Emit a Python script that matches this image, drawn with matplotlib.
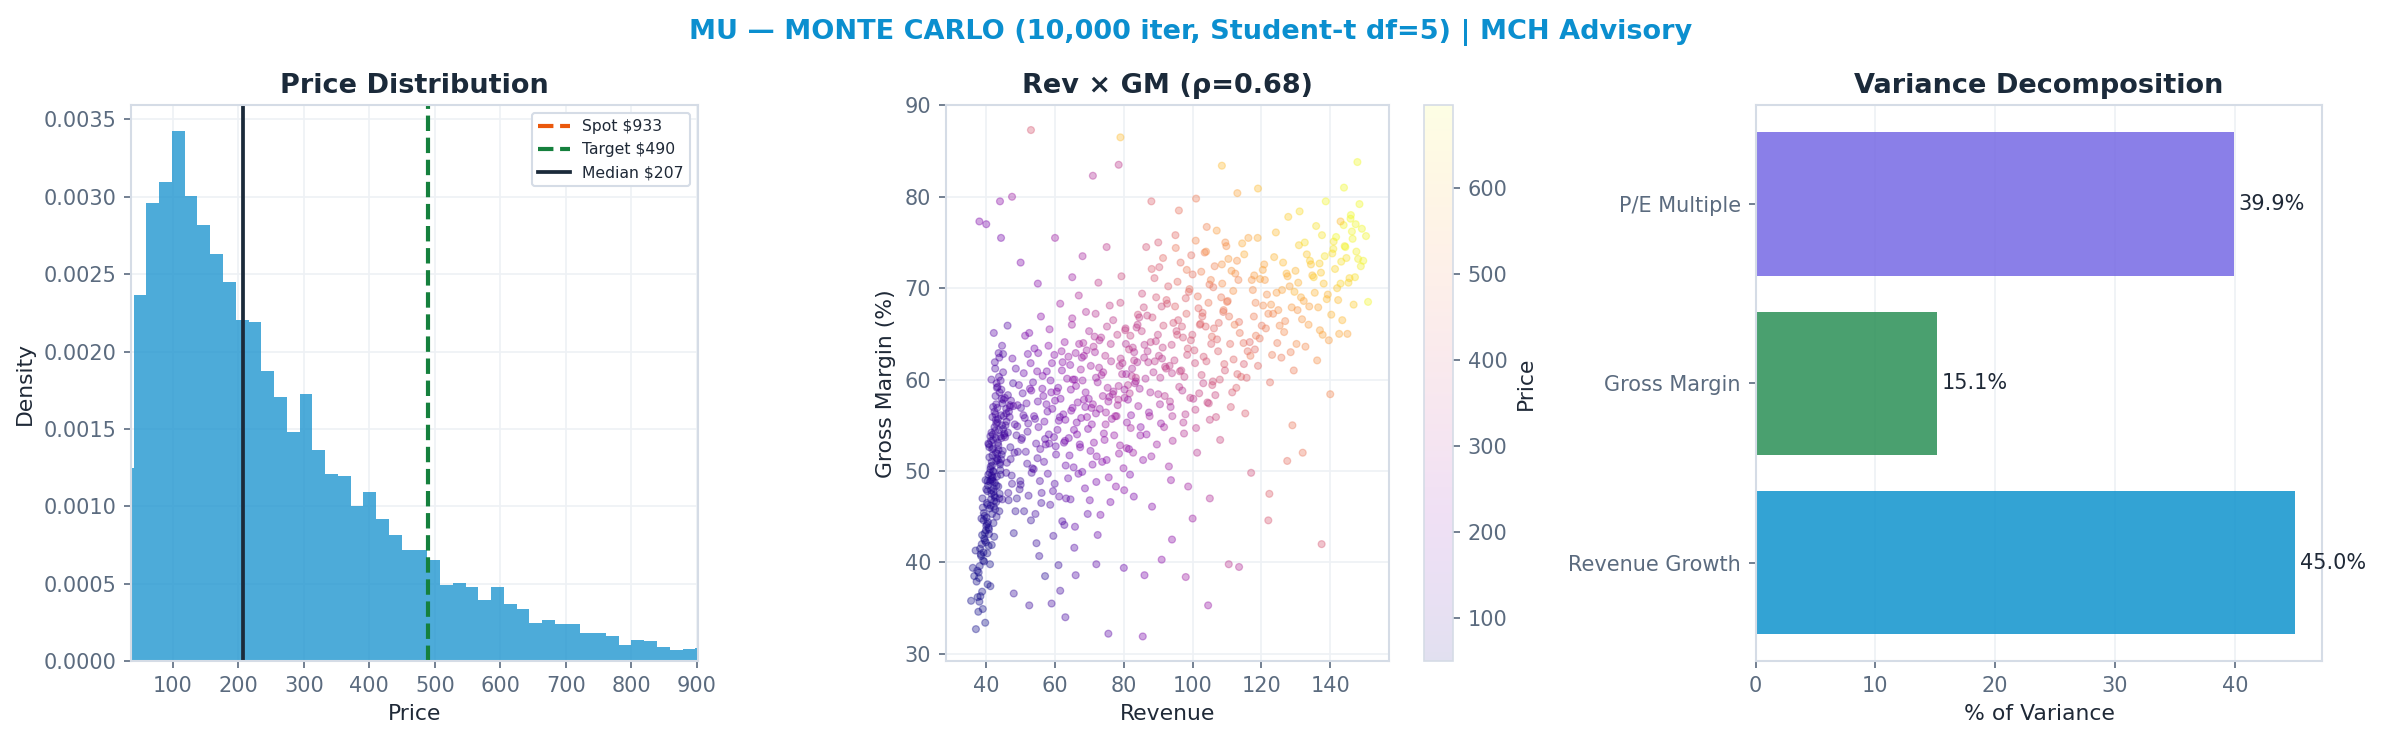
import numpy as np
import matplotlib
matplotlib.use("Agg")
import matplotlib.pyplot as plt

# ---- histogram of simulated price (density per bin)
bin_width = 19.5
bin_start = 20.5
hist_density = [
    0.001245, 0.002364, 0.002961, 0.003097, 0.003422, 0.003006, 0.002818, 0.002630,
    0.002448, 0.002201, 0.002188, 0.001877, 0.001703, 0.001478, 0.001725, 0.001361,
    0.001206, 0.001199, 0.001000, 0.001093, 0.000920, 0.000816, 0.000719, 0.000719,
    0.000654, 0.000491, 0.000504, 0.000478, 0.000396, 0.000478, 0.000368, 0.000335,
    0.000245, 0.000264, 0.000238, 0.000238, 0.000180, 0.000180, 0.000160, 0.000102,
    0.000134, 0.000128, 0.000089, 0.000069, 0.000076, 0.000082,
]
spot_price = 933
target_price = 490
median_price = 207

# ---- revenue vs gross margin samples (estimated from the cloud)
core_rev = [
    41.2, 42.5, 40.8, 43.1, 41.9, 42.8, 40.3, 44.0, 41.5, 42.2,
    43.6, 41.0, 42.9, 40.6, 43.9, 41.7, 42.4, 39.8, 44.5, 42.0,
    41.3, 43.3, 40.1, 42.6, 41.8, 43.8, 40.9, 42.1, 44.2, 41.4,
    39.5, 40.7, 38.9, 41.6, 40.2, 39.2, 42.3, 38.5, 40.5, 39.9,
    38.2, 41.1, 39.6, 37.8, 40.4, 38.7, 39.1, 37.4, 38.8, 36.9,
    43.4, 44.7, 42.7, 45.2, 43.0, 44.3, 42.0, 45.6, 43.7, 44.9,
    41.9, 43.2, 42.4, 44.1, 41.2, 43.5, 42.8, 45.0, 41.6, 42.9,
    40.0, 41.4, 39.3, 40.8, 42.1, 38.6, 40.3, 41.7, 39.0, 43.0,
    42.6, 44.4, 43.8, 41.5, 45.8, 46.3, 44.6, 43.1, 46.9, 42.2,
    37.2, 36.5, 38.0, 39.4, 37.7, 38.3, 36.1, 39.7, 37.0, 35.6,
    41.8, 43.4, 42.1, 44.6, 40.9, 43.0, 42.7, 41.3, 44.1, 42.4,
    43.7, 41.6, 42.9, 44.8, 40.6, 43.2, 42.0, 45.3, 41.1, 43.9,
    42.3, 44.0, 41.4, 43.5, 42.6, 40.4, 44.3, 42.8, 41.9, 43.1,
    39.9, 41.0, 40.2, 42.2, 39.4, 41.5, 40.7, 38.8, 41.7, 40.0,
    44.5, 45.9, 43.3, 46.6, 44.9, 42.5, 45.4, 43.6, 47.2, 44.2,
    38.4, 39.6, 37.9, 40.5, 38.1, 39.2, 41.2, 37.5, 40.8, 39.0,
    42.0, 43.8, 41.7, 44.4, 42.9, 40.3, 43.4, 41.3, 45.1, 42.6,
    46.0, 47.5, 45.5, 48.2, 46.8, 44.7, 47.9, 45.8, 49.0, 46.4,
]
core_gm = [
    50.2, 48.7, 52.9, 51.4, 49.3, 53.6, 47.8, 50.9, 54.2, 48.1,
    52.3, 49.8, 51.1, 53.0, 47.5, 50.6, 54.8, 49.0, 51.8, 52.5,
    46.2, 55.3, 44.9, 47.1, 55.9, 45.6, 51.5, 44.3, 49.6, 53.3,
    45.1, 43.8, 47.0, 41.9, 46.5, 44.6, 42.8, 40.7, 48.4, 42.2,
    41.5, 39.8, 43.2, 38.9, 37.6, 42.0, 40.2, 39.1, 36.8, 41.3,
    55.7, 57.4, 58.2, 53.9, 59.6, 56.1, 57.0, 55.0, 60.3, 54.6,
    48.9, 51.9, 56.5, 50.1, 53.8, 48.3, 52.0, 57.8, 49.5, 46.6,
    44.0, 46.9, 45.4, 43.1, 47.7, 44.8, 41.0, 49.1, 46.0, 45.0,
    61.2, 58.9, 62.4, 60.0, 56.8, 58.3, 63.7, 59.1, 57.2, 65.1,
    37.9, 38.5, 35.7, 40.1, 34.6, 36.3, 39.4, 33.4, 32.7, 35.8,
    51.7, 53.1, 49.9, 55.0, 52.6, 48.4, 56.2, 50.5, 53.8, 47.3,
    54.5, 51.0, 57.3, 52.2, 49.6, 56.9, 53.4, 54.1, 48.8, 58.6,
    46.7, 50.7, 47.9, 52.8, 45.8, 48.9, 51.3, 55.6, 54.0, 49.4,
    43.5, 45.9, 44.2, 46.1, 42.6, 47.5, 41.8, 43.0, 45.3, 48.0,
    57.9, 55.4, 59.2, 56.5, 60.8, 61.9, 58.0, 62.9, 57.7, 59.9,
    40.9, 42.4, 38.3, 44.4, 39.6, 41.1, 37.4, 36.2, 43.6, 34.9,
    50.0, 47.0, 52.4, 53.6, 55.2, 46.3, 51.2, 49.0, 56.0, 54.4,
    50.9, 48.6, 53.7, 52.0, 55.9, 46.9, 57.1, 49.8, 54.9, 47.6,
]
core_price = [
    82, 76, 95, 90, 80, 98, 72, 88, 104, 74,
    93, 79, 86, 101, 70, 84, 108, 73, 92, 96,
    71, 110, 64, 75, 112, 68, 87, 62, 81, 99,
    63, 60, 70, 57, 66, 61, 59, 55, 72, 58,
    56, 54, 60, 53, 52, 58, 55, 53, 51, 57,
    107, 118, 121, 103, 126, 113, 114, 106, 131, 104,
    83, 94, 115, 85, 100, 78, 96, 120, 80, 74,
    64, 69, 65, 61, 76, 63, 56, 79, 66, 71,
    128, 124, 138, 130, 119, 127, 145, 122, 133, 150,
    53, 52, 51, 55, 50, 52, 54, 50, 50, 51,
    88, 100, 80, 108, 92, 72, 116, 86, 104, 71,
    106, 84, 117, 99, 78, 118, 97, 109, 77, 128,
    70, 90, 73, 98, 66, 68, 96, 110, 102, 82,
    60, 67, 62, 70, 57, 69, 55, 54, 64, 70,
    125, 120, 128, 127, 136, 132, 131, 138, 134, 133,
    55, 58, 52, 62, 53, 56, 53, 50, 61, 50,
    85, 74, 95, 106, 109, 66, 93, 79, 118, 103,
    112, 108, 125, 122, 135, 95, 140, 110, 140, 105,
]

mid_rev = [
    48.3, 51.7, 55.2, 58.9, 62.4, 66.1, 69.8, 73.5, 77.0, 79.6,
    47.1, 50.4, 53.8, 57.3, 60.7, 64.2, 67.6, 71.3, 74.8, 78.2,
    49.5, 52.9, 56.6, 59.8, 63.5, 67.0, 70.4, 72.9, 76.3, 80.5,
    46.5, 50.0, 54.3, 57.9, 61.2, 65.4, 68.7, 72.1, 75.6, 78.9,
    48.8, 52.2, 55.7, 59.2, 62.9, 66.6, 69.3, 73.9, 77.5, 81.2,
    47.6, 51.3, 54.8, 58.4, 61.9, 65.0, 68.2, 71.8, 75.1, 79.0,
    49.9, 53.4, 56.1, 60.3, 63.8, 67.3, 70.9, 74.4, 78.6, 82.0,
    46.9, 50.8, 53.1, 56.9, 60.0, 64.7, 68.0, 71.0, 74.0, 76.8,
    52.5, 55.9, 58.1, 61.5, 64.9, 66.9, 69.0, 72.6, 75.9, 79.3,
    48.0, 51.0, 54.6, 58.6, 62.1, 63.2, 65.8, 70.1, 73.2, 77.7,
    50.6, 53.6, 57.6, 60.9, 64.4, 67.8, 71.6, 44.9, 46.2, 47.8,
    55.4, 59.5, 62.7, 65.6, 69.5, 72.4, 76.1, 80.1, 57.1, 61.0,
    49.2, 52.0, 58.3, 63.0, 66.4, 70.6, 74.7, 78.4, 81.7, 83.5,
    45.8, 48.6, 51.9, 54.0, 56.3, 59.7, 62.2, 65.2, 68.4, 71.5,
    50.2, 53.9, 57.5, 61.1, 64.6, 68.4, 71.9, 75.3, 78.8, 82.3,
    47.4, 51.5, 54.9, 58.2, 62.6, 66.3, 69.6, 73.0, 76.5, 80.2,
    49.1, 52.7, 56.4, 60.5, 63.9, 67.5, 71.2, 74.6, 78.1, 81.5,
    48.5, 52.3, 55.6, 59.4, 63.1, 66.8, 70.3, 73.7, 77.2, 80.8,
    51.2, 54.5, 57.8, 61.6, 65.1, 68.9, 72.4, 75.8, 79.5, 83.0,
    46.3, 49.7, 53.2, 56.8, 60.2, 64.0, 67.2, 70.7, 74.2, 77.9,
    50.9, 55.1, 59.1, 62.8, 66.0, 69.9, 73.4, 76.9, 80.4, 84.1,
    48.9, 53.0, 56.0, 59.9, 64.5, 67.9, 72.0, 75.0, 79.9, 82.7,
    52.1, 55.0, 58.7, 62.0, 65.7, 69.2, 72.8, 76.2, 79.1, 81.9,
    47.0, 50.1, 54.2, 57.1, 61.4, 65.5, 68.8, 71.9, 75.5, 78.5,
]
mid_gm = [
    55.1, 57.4, 54.8, 58.6, 56.2, 59.3, 57.9, 60.5, 58.7, 61.8,
    51.3, 53.6, 50.2, 52.9, 54.5, 51.7, 55.8, 53.1, 56.4, 57.2,
    59.4, 61.8, 58.2, 62.7, 60.1, 63.9, 61.5, 64.3, 62.0, 65.6,
    46.8, 48.5, 45.3, 49.7, 47.2, 50.4, 48.1, 51.6, 49.3, 52.8,
    53.9, 55.2, 52.4, 56.8, 53.3, 57.5, 55.9, 58.2, 56.0, 59.4,
    62.3, 64.8, 60.9, 65.5, 63.1, 66.7, 64.0, 67.2, 65.8, 68.4,
    48.9, 50.3, 47.6, 51.8, 49.2, 52.6, 50.7, 53.4, 51.9, 54.7,
    57.0, 56.1, 58.8, 55.4, 57.7, 56.6, 59.9, 57.3, 60.8, 58.4,
    65.1, 66.9, 63.7, 68.3, 66.0, 69.2, 67.4, 70.6, 68.1, 71.3,
    43.2, 45.6, 42.1, 46.3, 44.5, 47.0, 43.9, 46.8, 45.2, 48.3,
    58.5, 59.7, 60.9, 59.1, 61.6, 62.4, 63.0, 62.8, 65.9, 59.6,
    40.7, 42.9, 44.1, 41.6, 45.3, 43.0, 46.6, 47.9, 38.5, 39.7,
    52.1, 54.3, 53.0, 55.6, 54.0, 56.9, 55.1, 57.8, 58.5, 60.2,
    56.3, 61.2, 50.8, 63.4, 59.0, 53.7, 61.9, 60.0, 62.6, 64.7,
    53.4, 56.0, 57.3, 55.5, 58.9, 57.8, 60.2, 59.1, 61.5, 60.4,
    49.5, 52.1, 51.4, 54.0, 53.1, 55.3, 54.6, 56.8, 55.7, 58.0,
    57.2, 59.0, 60.4, 58.7, 62.5, 61.1, 63.6, 62.6, 64.9, 63.3,
    45.6, 47.3, 48.9, 47.8, 50.6, 49.7, 52.2, 51.0, 53.9, 52.5,
    55.8, 53.0, 56.5, 57.9, 56.9, 58.6, 59.7, 58.1, 60.6, 62.1,
    54.2, 48.0, 49.8, 51.0, 52.7, 53.6, 52.9, 55.1, 54.1, 56.0,
    60.7, 62.9, 61.8, 64.1, 62.9, 65.3, 64.6, 66.5, 65.4, 67.1,
    47.0, 44.6, 46.5, 48.6, 46.9, 49.9, 48.8, 51.2, 50.3, 52.0,
    62.8, 57.6, 59.9, 61.0, 60.0, 63.2, 61.3, 63.9, 62.3, 64.8,
    52.6, 56.9, 55.7, 53.5, 55.9, 54.5, 57.0, 56.3, 57.6, 59.3,
]
mid_price = [
    140, 160, 170, 200, 200, 235, 240, 275, 280, 310,
    110, 130, 135, 160, 185, 180, 220, 230, 265, 280,
    160, 190, 190, 230, 235, 270, 270, 295, 300, 340,
    85, 105, 110, 145, 155, 180, 185, 220, 225, 255,
    125, 150, 155, 190, 195, 230, 240, 270, 275, 310,
    170, 200, 200, 245, 250, 275, 285, 315, 325, 360,
    100, 125, 125, 165, 170, 200, 210, 240, 250, 280,
    135, 150, 180, 175, 200, 220, 250, 255, 285, 280,
    200, 230, 225, 270, 270, 295, 300, 335, 340, 370,
    75, 90, 95, 125, 135, 150, 155, 185, 195, 225,
    145, 165, 190, 195, 225, 250, 275, 125, 140, 120,
    95, 115, 130, 135, 160, 170, 200, 230, 75, 95,
    115, 140, 160, 200, 210, 245, 265, 295, 315, 340,
    115, 150, 125, 190, 190, 175, 225, 240, 270, 295,
    135, 165, 185, 190, 225, 235, 265, 275, 305, 315,
    100, 130, 140, 165, 180, 205, 215, 245, 255, 285,
    150, 180, 205, 215, 255, 265, 300, 310, 340, 345,
    85, 110, 130, 145, 170, 185, 210, 220, 250, 265,
    140, 145, 175, 200, 210, 240, 260, 270, 300, 325,
    110, 100, 120, 145, 165, 190, 200, 230, 240, 270,
    170, 200, 215, 250, 255, 290, 305, 330, 345, 375,
    85, 90, 110, 140, 150, 180, 195, 220, 240, 265,
    180, 165, 195, 220, 235, 270, 280, 310, 320, 350,
    100, 130, 145, 150, 180, 200, 225, 240, 265, 290,
]

up_rev = [
    82.4, 85.9, 88.6, 91.3, 94.7, 97.2, 100.5, 103.8, 107.1, 110.6,
    80.9, 84.2, 87.5, 90.0, 93.4, 96.1, 99.3, 102.6, 105.9, 109.2,
    83.7, 86.8, 89.9, 92.6, 95.8, 98.9, 101.7, 104.9, 108.3, 112.4,
    81.5, 84.8, 88.0, 91.7, 94.2, 97.9, 101.0, 104.3, 106.8, 111.5,
    83.0, 86.3, 89.3, 92.0, 95.3, 98.4, 102.1, 105.4, 108.9, 113.7,
    80.2, 83.5, 87.1, 90.6, 93.9, 96.7, 99.9, 103.2, 107.6, 114.8,
    85.3, 88.9, 92.9, 96.5, 100.0, 103.5, 106.4, 109.8, 112.9, 116.2,
    81.8, 85.6, 89.6, 93.1, 97.5, 101.3, 105.0, 108.0, 111.1, 115.3,
    84.5, 87.8, 91.0, 94.4, 98.0, 102.9, 106.0, 110.2, 113.3, 117.5,
    86.5, 90.3, 95.0, 99.6, 104.1, 109.5, 82.9, 88.2, 93.7, 98.7,
    80.6, 84.0, 91.9, 96.3, 100.8, 105.7, 111.9, 118.4, 120.5, 114.1,
    83.2, 86.0, 89.0, 92.3, 95.5, 98.6, 102.3, 105.6, 109.0, 112.2,
    81.2, 84.6, 87.7, 91.1, 94.0, 97.6, 100.7, 104.0, 107.4, 110.9,
    82.6, 85.2, 88.3, 91.5, 94.9, 98.2, 101.5, 104.6, 108.6, 111.8,
    84.9, 87.3, 90.8, 93.6, 97.0, 100.2, 103.1, 106.6, 109.4, 113.0,
    80.7, 83.9, 86.9, 90.2, 93.3, 96.9, 99.5, 102.8, 106.2, 110.0,
    85.8, 89.4, 92.4, 95.6, 99.1, 102.5, 105.3, 108.5, 111.3, 115.0,
    82.1, 86.6, 90.5, 94.1, 97.3, 101.9, 104.7, 107.9, 112.7, 116.8,
    88.1, 91.4, 95.1, 98.3, 100.9, 103.9, 107.0, 110.4, 114.4, 117.9,
]
up_gm = [
    61.2, 62.4, 60.8, 63.5, 62.1, 64.6, 63.2, 65.8, 64.4, 66.9,
    55.3, 57.1, 56.0, 58.4, 57.6, 59.2, 58.0, 60.5, 59.8, 61.7,
    65.7, 67.0, 64.9, 68.3, 66.5, 69.6, 67.8, 70.4, 69.0, 71.6,
    52.4, 53.9, 51.6, 54.8, 53.3, 56.2, 54.7, 57.5, 55.9, 58.6,
    63.0, 60.1, 64.2, 61.4, 65.3, 62.7, 66.0, 63.9, 67.4, 65.1,
    58.9, 59.8, 61.9, 60.2, 63.8, 61.0, 64.9, 62.5, 66.2, 64.0,
    69.4, 71.1, 70.2, 72.8, 71.5, 73.9, 72.4, 74.6, 73.0, 75.5,
    49.6, 51.2, 52.9, 50.5, 54.1, 52.0, 55.6, 53.4, 57.0, 56.3,
    66.8, 64.1, 68.0, 66.2, 68.9, 67.3, 70.1, 68.6, 70.9, 69.8,
    74.5, 72.3, 75.8, 73.6, 76.7, 75.0, 47.2, 46.1, 49.0, 48.3,
    63.9, 66.0, 58.2, 60.9, 56.7, 59.4, 62.2, 64.8, 68.1, 60.3,
    59.6, 63.8, 62.0, 61.2, 64.9, 63.4, 66.1, 64.7, 67.6, 66.0,
    57.8, 59.0, 58.6, 62.3, 60.7, 60.3, 61.8, 62.0, 63.1, 63.9,
    63.5, 65.3, 66.8, 65.9, 68.0, 67.2, 69.1, 68.4, 70.5, 69.7,
    54.8, 56.4, 55.2, 57.0, 58.8, 57.9, 59.6, 58.3, 61.0, 60.6,
    60.6, 61.9, 63.1, 62.6, 61.5, 65.8, 64.3, 66.9, 65.6, 68.5,
    67.9, 69.0, 68.7, 70.7, 69.9, 71.8, 70.9, 72.6, 71.9, 73.7,
    56.1, 54.0, 57.3, 56.0, 55.3, 58.5, 57.4, 60.0, 59.1, 62.6,
    72.1, 73.3, 74.4, 72.0, 75.2, 74.0, 76.3, 73.2, 74.9, 71.4,
]
up_price = [
    290, 310, 310, 345, 350, 385, 390, 425, 430, 470,
    250, 270, 280, 300, 315, 335, 350, 375, 385, 415,
    330, 355, 350, 390, 395, 430, 435, 470, 475, 520,
    225, 245, 255, 280, 290, 320, 330, 355, 365, 400,
    300, 300, 340, 335, 375, 375, 415, 415, 455, 470,
    270, 290, 315, 320, 355, 350, 390, 395, 440, 460,
    370, 400, 415, 450, 460, 490, 495, 520, 525, 555,
    210, 240, 265, 265, 310, 315, 355, 360, 395, 410,
    340, 345, 380, 390, 420, 440, 465, 480, 500, 515,
    390, 400, 440, 455, 495, 520, 200, 220, 250, 270,
    305, 335, 320, 355, 345, 380, 430, 480, 510, 430,
    280, 320, 330, 345, 385, 395, 430, 445, 480, 490,
    250, 275, 290, 325, 330, 350, 375, 395, 420, 445,
    320, 345, 375, 385, 425, 430, 465, 475, 515, 525,
    225, 250, 255, 285, 315, 325, 350, 360, 395, 420,
    270, 295, 320, 335, 340, 390, 395, 430, 435, 480,
    365, 395, 410, 445, 460, 495, 500, 530, 535, 575,
    235, 240, 285, 300, 310, 355, 360, 395, 420, 475,
    415, 440, 470, 480, 505, 520, 545, 540, 570, 545,
]

top_rev = [
    118.3, 121.6, 124.9, 128.2, 131.5, 134.8, 138.1, 141.4, 144.7, 147.6,
    116.0, 119.5, 123.1, 126.6, 130.2, 133.7, 137.0, 140.3, 143.5, 146.8,
    120.4, 123.7, 127.3, 130.9, 134.1, 137.6, 140.9, 143.9, 145.9, 148.5,
    115.7, 119.0, 122.5, 125.8, 129.4, 132.8, 136.2, 139.6, 142.6, 145.3,
    117.2, 120.8, 126.0, 129.9, 133.2, 136.9, 141.0, 144.2, 146.3, 148.9,
    113.5, 122.0, 125.3, 128.8, 132.3, 135.5, 139.0, 142.0, 147.2, 149.6,
    118.9, 124.2, 127.8, 131.1, 135.9, 138.7, 144.0, 146.0, 147.9, 150.4,
    117.8, 121.0, 124.4, 127.6, 130.7, 134.4, 137.3, 140.6, 143.2, 146.5,
    116.6, 120.1, 123.4, 126.9, 130.5, 133.9, 136.5, 139.3, 142.3, 145.6,
    119.6, 122.8, 126.3, 129.6, 132.6, 135.2, 138.4, 141.7, 144.4, 147.4,
    114.9, 118.1, 121.3, 124.6, 128.5, 131.8, 137.8, 143.0, 148.1, 149.2,
]
top_gm = [
    68.4, 69.3, 67.6, 70.2, 69.0, 71.4, 70.5, 72.1, 73.3, 74.0,
    63.1, 64.5, 62.7, 65.2, 63.9, 66.0, 65.4, 67.1, 66.5, 68.2,
    72.0, 73.4, 71.6, 74.7, 73.0, 75.8, 74.3, 76.9, 77.6, 79.2,
    60.2, 61.5, 59.7, 62.4, 61.0, 63.6, 62.1, 64.3, 65.0, 70.6,
    70.9, 72.6, 69.8, 71.9, 73.7, 72.7, 75.1, 74.6, 76.2, 72.4,
    66.3, 67.2, 65.9, 67.9, 68.6, 69.5, 68.8, 70.0, 71.2, 73.0,
    75.5, 76.1, 77.8, 78.4, 76.8, 79.5, 81.0, 78.0, 83.8, 75.7,
    66.9, 70.9, 69.5, 71.3, 70.6, 72.6, 71.7, 73.8, 72.9, 75.4,
    64.1, 65.9, 67.2, 66.4, 67.6, 68.0, 67.9, 69.3, 68.7, 71.1,
    71.0, 68.2, 72.8, 69.6, 75.0, 71.2, 73.5, 75.6, 74.5, 77.0,
    61.7, 63.3, 65.6, 64.0, 63.0, 66.6, 64.9, 70.5, 73.2, 76.5,
]
top_price = [
    500, 520, 525, 560, 570, 600, 610, 640, 660, 680,
    450, 470, 480, 510, 515, 545, 555, 585, 595, 625,
    560, 590, 590, 630, 630, 665, 670, 690, 695, 700,
    420, 440, 450, 475, 480, 510, 520, 545, 565, 640,
    530, 560, 560, 590, 620, 630, 665, 670, 690, 680,
    460, 505, 510, 540, 560, 585, 600, 620, 660, 690,
    570, 600, 625, 650, 660, 690, 700, 700, 700, 690,
    485, 540, 545, 575, 580, 615, 620, 655, 660, 690,
    440, 470, 500, 505, 530, 550, 565, 590, 600, 640,
    550, 530, 600, 590, 655, 630, 665, 695, 695, 700,
    410, 440, 480, 480, 490, 535, 560, 640, 680, 700,
]

odd_rev = [
    53.0, 79.0, 78.5, 71.0, 47.5, 44.0, 38.0, 40.0, 44.3, 108.5,
    143.0, 75.5, 85.5, 104.5, 63.0, 59.0, 52.5, 48.0, 137.5, 122.0,
    110.5, 113.5, 98.0, 91.0, 86.0, 80.0, 72.0, 66.0, 61.5, 122.3,
    127.5, 129.0, 140.0, 132.0, 151.0, 145.0, 119.0, 113.0, 94.0, 100.0,
    105.0, 117.0, 90.0, 96.0, 101.0, 88.0, 75.0, 68.0, 60.0, 65.0,
    55.0, 50.0,
]
odd_gm = [
    87.3, 86.5, 83.5, 82.3, 80.0, 79.5, 77.3, 77.0, 75.5, 83.4,
    77.3, 32.2, 31.9, 35.3, 34.0, 35.5, 35.3, 36.6, 42.0, 44.6,
    39.8, 39.5, 38.4, 40.3, 38.6, 39.4, 39.8, 38.6, 36.9, 47.5,
    51.1, 55.0, 58.4, 52.0, 68.5, 65.0, 80.9, 80.4, 42.5, 44.8,
    47.0, 49.8, 75.0, 78.5, 79.8, 79.5, 74.5, 73.5, 75.5, 71.2,
    70.5, 72.8,
]
odd_price = [
    400, 600, 330, 300, 260, 230, 210, 200, 190, 600,
    600, 150, 200, 250, 120, 110, 100, 90, 400, 400,
    320, 300, 260, 230, 200, 170, 150, 130, 110, 420,
    450, 470, 500, 470, 690, 560, 600, 560, 230, 260,
    300, 380, 400, 460, 480, 420, 330, 280, 260, 260,
    220, 210,
]
rho = 0.68

# ---- variance decomposition
factors = ["Revenue Growth", "Gross Margin", "P/E Multiple"]
variance_share = [45.0, 15.1, 39.9]
factor_colors = ["#0F93CD", "#2A8F56", "#7669E4"]

TITLE_C = "#1B2A3A"
TICK_C = "#5B6B7F"
LABEL_C = "#1F2937"
SPINE_C = "#D5DCE6"
GRID_C = "#EEF1F5"


def style_axes(ax):
    for s in ax.spines.values():
        s.set_color(SPINE_C)
        s.set_linewidth(1.0)
    ax.tick_params(colors=TICK_C, labelsize=10, length=3.5, width=0.8)
    ax.grid(True, color=GRID_C, linewidth=0.8)
    ax.set_axisbelow(True)


fig = plt.figure(figsize=(2382 / 150, 742 / 150), dpi=150)
fig.patch.set_facecolor("white")

# ---- panel 1: price distribution
ax1 = fig.add_axes([0.055, 0.109, 0.238, 0.749])
style_axes(ax1)
edges = bin_start + bin_width * np.arange(len(hist_density) + 1)
ax1.hist(edges[:-1], bins=edges, weights=hist_density, color="#2196D0", alpha=0.8)
ax1.axvline(spot_price, color="#EA580C", ls="--", lw=2, label=f"Spot ${spot_price}")
ax1.axvline(target_price, color="#15803D", ls="--", lw=2, label=f"Target ${target_price}")
ax1.axvline(median_price, color=TITLE_C, ls="-", lw=1.8, label=f"Median ${median_price}")
ax1.set_xlim(36, 902)
ax1.set_ylim(0, 0.00359)
ax1.set_xticks(np.arange(100, 901, 100))
ax1.set_xlabel("Price", fontsize=10.5, color=LABEL_C)
ax1.set_ylabel("Density", fontsize=10.5, color=LABEL_C)
ax1.set_title("Price Distribution", fontsize=13, fontweight="bold", color=TITLE_C)
ax1.legend(loc="upper right", fontsize=7.5, frameon=True, framealpha=1,
           edgecolor=SPINE_C, labelcolor=LABEL_C)

# ---- panel 2: revenue vs gross margin
ax2 = fig.add_axes([0.397, 0.109, 0.186, 0.749])
style_axes(ax2)
rev = np.concatenate([core_rev, mid_rev, up_rev, top_rev, odd_rev])
gm = np.concatenate([core_gm, mid_gm, up_gm, top_gm, odd_gm])
px = np.concatenate([core_price, mid_price, up_price, top_price, odd_price])
sc = ax2.scatter(rev, gm, c=px, cmap="plasma", vmin=50, vmax=696,
                 s=11, alpha=0.35, linewidths=0.6)
ax2.set_xlim(28.2, 157)
ax2.set_ylim(29.2, 90)
ax2.set_xticks(np.arange(40, 141, 20))
ax2.set_xlabel("Revenue", fontsize=10.5, color=LABEL_C)
ax2.set_ylabel("Gross Margin (%)", fontsize=10.5, color=LABEL_C)
ax2.set_title(f"Rev × GM (ρ={rho:.2f})", fontsize=13, fontweight="bold", color=TITLE_C)

cax = fig.add_axes([0.598, 0.109, 0.012, 0.749])
cb = fig.colorbar(sc, cax=cax)
cb.solids.set_alpha(0.12)
cb.outline.set_edgecolor(SPINE_C)
cb.ax.tick_params(colors=TICK_C, labelsize=10, length=3.5)
cb.set_label("Price", fontsize=10.5, color=LABEL_C)

# ---- panel 3: variance decomposition
ax3 = fig.add_axes([0.737, 0.109, 0.238, 0.749])
style_axes(ax3)
ax3.grid(False, axis="y")
ypos = np.arange(len(factors))
ax3.barh(ypos, variance_share, color=factor_colors, alpha=0.85, height=0.8)
for y, v in zip(ypos, variance_share):
    ax3.text(v + 0.4, y, f"{v:.1f}%", va="center", ha="left", fontsize=10, color=LABEL_C)
ax3.set_yticks(ypos)
ax3.set_yticklabels(factors)
ax3.set_xlim(0, 47.3)
ax3.set_ylim(-0.55, 2.55)
ax3.set_xlabel("% of Variance", fontsize=10.5, color=LABEL_C)
ax3.set_title("Variance Decomposition", fontsize=13, fontweight="bold", color=TITLE_C)

fig.suptitle("MU — MONTE CARLO (10,000 iter, Student-t df=5) | MCH Advisory",
             fontsize=13, fontweight="bold", color="#0B8FCF", y=0.975)

fig.savefig("out.png", dpi=150, facecolor="white")
